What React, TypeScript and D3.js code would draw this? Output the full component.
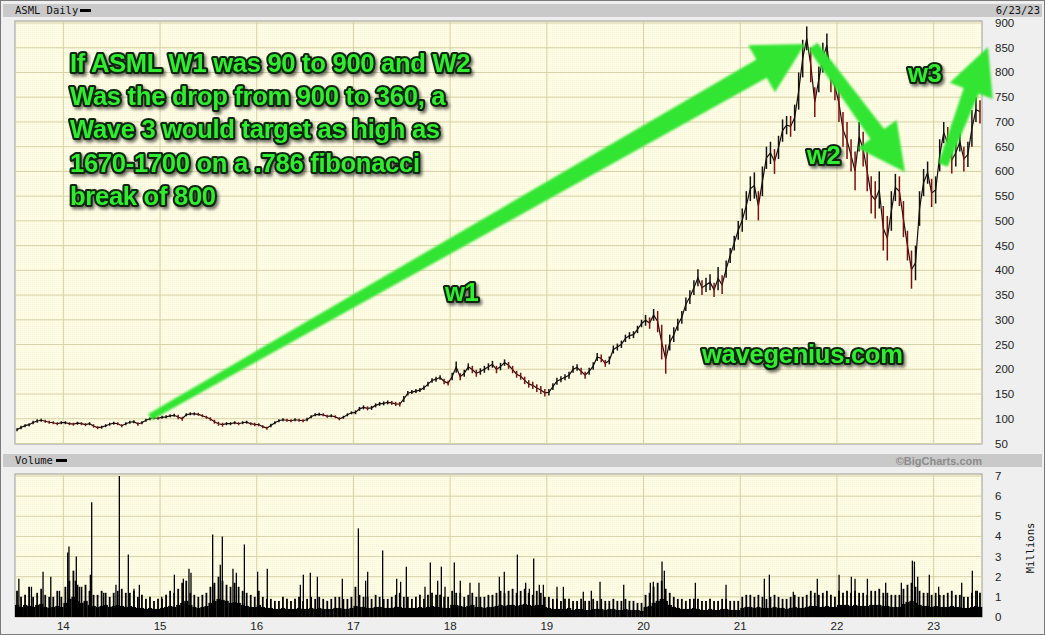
import React from "react";
import * as d3 from "d3";

// ASML daily, 7/2013 - 6/23/2023 in half-month steps
// each year row: first half of month, second half of month (Jan..Dec)
const priceHigh = [
  // 2013 H2
  81, 86, 89, 91, 96, 99, 100, 98, 96, 95, 93, 95,
  // 2014
  95, 93, 92, 94, 93, 91, 93, 89, 85, 86, 89, 92, 94, 93, 89, 93, 96, 97, 93, 95, 100, 103, 105, 104,
  // 2015
  106, 107, 109, 110, 108, 104, 111, 113, 113, 112, 109, 106, 103, 98, 94, 92, 93, 93, 95, 93, 95, 96, 93, 92,
  // 2016
  91, 87, 84, 90, 95, 99, 101, 100, 99, 101, 100, 99, 102, 107, 111, 112, 111, 108, 109, 107, 103, 106, 111, 115,
  // 2017
  117, 124, 127, 125, 126, 131, 134, 135, 137, 136, 134, 134, 146, 156, 158, 160, 162, 167, 175, 182, 185, 188, 181, 177,
  // 2018
  193, 216, 192, 199, 212, 207, 199, 202, 207, 212, 217, 207, 213, 220, 215, 207, 197, 193, 185, 178, 175, 170, 166, 160,
  // 2019
  160, 172, 183, 186, 190, 195, 207, 210, 203, 195, 203, 214, 233, 230, 219, 226, 248, 252, 258, 270, 275, 277, 288, 300,
  // 2020
  310, 305, 322, 318, 290, 250, 270, 285, 302, 318, 345, 360, 380, 402, 380, 385, 392, 375, 407, 390, 420, 445, 470, 500,
  // 2021
  525, 560, 590, 598, 560, 610, 650, 660, 645, 672, 705, 712, 712, 735, 800, 866, 893, 850, 770, 812, 860, 879, 820, 800,
  // 2022
  775, 720, 700, 665, 640, 700, 680, 640, 590, 580, 600, 530, 510, 560, 595, 590, 540, 480, 440, 450, 560, 605, 620, 585,
  // 2023 H1
  590, 665, 700, 690, 650, 665, 680, 650, 660, 724, 750, 744,
];

const priceLow = [
  75, 79, 83, 85, 89, 92, 94, 92, 90, 89, 87, 89,
  89, 87, 86, 88, 87, 85, 87, 82, 79, 80, 83, 86, 88, 87, 83, 87, 90, 91, 86, 89, 94, 97, 99, 98,
  100, 101, 103, 104, 99, 96, 105, 107, 107, 106, 103, 100, 96, 90, 86, 84, 87, 87, 89, 87, 89, 90, 87, 85,
  85, 81, 78, 83, 89, 93, 95, 94, 93, 95, 94, 93, 95, 101, 105, 106, 105, 102, 103, 101, 97, 100, 105, 109,
  109, 116, 119, 117, 118, 123, 126, 127, 129, 128, 126, 125, 134, 147, 150, 152, 154, 158, 165, 173, 175, 179, 170, 167,
  178, 193, 178, 185, 198, 192, 185, 189, 193, 198, 203, 192, 198, 207, 201, 192, 183, 179, 170, 163, 160, 154, 150, 145,
  147, 158, 169, 174, 178, 181, 193, 197, 189, 181, 189, 199, 217, 214, 205, 210, 232, 238, 243, 255, 261, 263, 273, 285,
  288, 282, 298, 275, 220, 191, 238, 255, 278, 292, 318, 332, 350, 368, 350, 356, 360, 346, 360, 352, 385, 415, 440, 462,
  478, 502, 540, 545, 501, 550, 605, 615, 595, 625, 660, 675, 670, 682, 725, 790, 845, 780, 710, 760, 800, 830, 760, 744,
  700, 650, 625, 600, 562, 640, 610, 560, 515, 505, 525, 440, 420, 480, 540, 530, 467, 420, 363, 380, 490, 550, 575, 528,
  535, 600, 657, 623, 596, 610, 640, 600, 609, 650, 700, 697,
];

// volume, millions: the solid mass and the usual top of the daily bars
const volumeBase = [
  0.6, 0.5, 0.6, 0.55, 0.5, 0.6, 0.65, 0.5, 0.45, 0.5, 0.55, 0.5,
  0.7, 0.9, 1.0, 0.8, 0.7, 0.8, 0.6, 0.55, 0.5, 0.55, 0.6, 0.5, 0.55, 0.6, 0.55, 0.5, 0.55, 0.5, 0.45, 0.45, 0.4, 0.45, 0.4, 0.4,
  0.45, 0.5, 0.55, 0.5, 0.6, 0.7, 0.8, 0.6, 0.5, 0.45, 0.5, 0.55, 0.7, 0.8, 0.9, 0.85, 0.8, 0.7, 0.75, 0.7, 0.6, 0.55, 0.5, 0.5,
  0.6, 0.5, 0.45, 0.45, 0.4, 0.4, 0.45, 0.4, 0.4, 0.4, 0.45, 0.4, 0.4, 0.45, 0.4, 0.45, 0.4, 0.4, 0.4, 0.45, 0.45, 0.4, 0.4, 0.45,
  0.55, 0.5, 0.5, 0.45, 0.45, 0.5, 0.5, 0.45, 0.45, 0.45, 0.5, 0.5, 0.45, 0.45, 0.45, 0.45, 0.5, 0.45, 0.5, 0.55, 0.5, 0.5, 0.45, 0.45,
  0.6, 0.6, 0.55, 0.5, 0.55, 0.6, 0.5, 0.5, 0.45, 0.5, 0.5, 0.55, 0.6, 0.55, 0.6, 0.6, 0.55, 0.6, 0.65, 0.6, 0.55, 0.6, 0.6, 0.5,
  0.45, 0.4, 0.4, 0.4, 0.4, 0.45, 0.35, 0.4, 0.4, 0.35, 0.35, 0.4, 0.4, 0.4, 0.35, 0.4, 0.4, 0.35, 0.35, 0.4, 0.35, 0.35, 0.35, 0.3,
  0.5, 0.55, 0.7, 0.8, 0.9, 0.8, 0.6, 0.5, 0.45, 0.4, 0.4, 0.4, 0.45, 0.4, 0.35, 0.35, 0.4, 0.35, 0.35, 0.4, 0.4, 0.35, 0.35, 0.35,
  0.45, 0.5, 0.5, 0.45, 0.5, 0.45, 0.45, 0.45, 0.5, 0.45, 0.45, 0.4, 0.45, 0.5, 0.45, 0.45, 0.5, 0.55, 0.55, 0.5, 0.5, 0.55, 0.5, 0.5,
  0.6, 0.6, 0.6, 0.55, 0.6, 0.55, 0.55, 0.55, 0.6, 0.6, 0.6, 0.55, 0.55, 0.5, 0.5, 0.5, 0.65, 0.75, 0.8, 0.7, 0.6, 0.55, 0.55, 0.5,
  0.55, 0.5, 0.5, 0.5, 0.55, 0.5, 0.5, 0.45, 0.45, 0.5, 0.55, 0.5,
];

const volumeHigh = [
  1.3, 1.0, 1.1, 1.5, 1.0, 1.2, 1.4, 1.1, 1.0, 1.0, 1.3, 1.0,
  1.5, 1.8, 2.3, 1.6, 1.5, 1.6, 1.3, 1.1, 1.1, 1.3, 1.2, 1.0, 1.2, 1.3, 1.4, 1.2, 1.2, 1.3, 1.0, 1.1, 0.9, 1.0, 0.8, 0.9,
  0.9, 1.1, 1.3, 1.2, 1.4, 1.7, 1.8, 1.2, 1.1, 1.0, 1.1, 1.2, 1.5, 1.7, 2.0, 1.8, 1.6, 1.5, 1.7, 1.5, 1.3, 1.2, 1.1, 1.0,
  1.3, 1.0, 0.9, 0.9, 0.8, 0.8, 1.0, 0.9, 0.8, 0.9, 1.0, 0.8, 0.9, 1.0, 0.9, 1.0, 0.9, 0.8, 0.9, 1.0, 1.0, 0.9, 0.9, 1.0,
  1.5, 1.1, 1.0, 1.0, 0.9, 1.1, 1.0, 0.9, 0.9, 1.0, 1.1, 1.2, 1.0, 1.0, 0.9, 1.0, 1.1, 0.9, 1.1, 1.2, 1.1, 1.1, 1.0, 1.0,
  1.3, 1.2, 1.2, 1.0, 1.1, 1.2, 1.0, 1.0, 1.0, 1.1, 1.1, 1.2, 1.3, 1.2, 1.3, 1.4, 1.2, 1.3, 1.4, 1.2, 1.1, 1.3, 1.2, 1.0,
  1.0, 0.9, 0.9, 0.8, 0.9, 0.9, 0.8, 0.8, 0.9, 0.8, 0.8, 0.9, 0.8, 0.9, 0.8, 0.8, 0.9, 0.8, 0.8, 0.9, 0.8, 0.8, 0.7, 0.7,
  1.1, 1.2, 1.5, 1.7, 1.8, 1.4, 1.2, 1.0, 0.9, 0.9, 0.8, 0.9, 0.9, 0.9, 0.8, 0.8, 0.9, 0.8, 0.8, 0.9, 0.9, 0.8, 0.8, 0.8,
  1.0, 1.1, 1.1, 1.0, 1.1, 1.0, 0.9, 1.0, 1.1, 1.0, 0.9, 0.9, 1.0, 1.1, 1.0, 1.0, 1.1, 1.3, 1.2, 1.1, 1.2, 1.3, 1.1, 1.0,
  1.3, 1.2, 1.3, 1.2, 1.3, 1.2, 1.2, 1.1, 1.3, 1.3, 1.4, 1.2, 1.2, 1.1, 1.1, 1.1, 1.4, 1.6, 1.7, 1.5, 1.3, 1.2, 1.2, 1.1,
  1.2, 1.1, 1.1, 1.2, 1.3, 1.1, 1.1, 1.0, 1.0, 1.2, 1.3, 1.2,
];

// single-day volume spikes (year as 13.xx .. 23.xx, millions)
const spikeDates = [
  13.54, 13.67, 13.79, 13.87, 13.96, 14.045, 14.058, 14.124, 14.134, 14.165, 14.279, 14.293, 14.417, 14.544, 14.579,
  14.672, 14.731, 14.786, 15.017, 15.148, 15.241, 15.299, 15.32, 15.544, 15.561, 15.623, 15.644, 15.754, 15.789,
  15.872, 16.009, 16.109, 16.451, 16.482, 16.554, 16.627, 16.885, 17.051, 17.126, 17.147, 17.302, 17.447, 17.488,
  17.547, 17.74, 17.795, 17.871, 17.909, 17.947, 18.043, 18.105, 18.205, 18.298, 18.509, 18.56, 18.695, 18.781,
  18.819, 18.864, 18.922, 18.964, 19.105, 19.171, 19.377, 19.46, 19.55, 19.795, 20.07, 20.101, 20.191, 20.215,
  20.536, 20.853, 21.249, 21.301, 21.549, 21.797, 22.022, 22.149, 22.187, 22.315, 22.504, 22.666, 22.78, 22.801,
  22.835, 22.955, 23.052, 23.29, 23.4, 23.452,
];
const spikeValues = [
  1.9, 1.5, 2.25, 2.0, 1.3, 3.2, 3.5, 1.8, 3.0, 1.5, 2.1, 5.7, 1.2, 1.6, 7.0,
  3.1, 1.4, 1.6, 1.0, 2.1, 1.9, 2.4, 2.2, 4.1, 1.6, 2.6, 4.0, 2.4, 2.2,
  3.6, 2.25, 2.4, 1.6, 2.1, 2.2, 2.0, 1.9, 4.4, 1.8, 2.25, 3.3, 1.9, 1.75,
  2.5, 1.5, 2.7, 1.8, 2.5, 1.5, 2.7, 1.8, 1.7, 1.7, 2.0, 2.25, 3.1, 1.7,
  1.4, 2.9, 1.6, 1.6, 1.5, 1.5, 1.25, 1.3, 1.75, 1.6, 1.7, 1.75, 2.75, 2.3,
  1.7, 1.6, 1.9, 2.1, 1.25, 1.9, 2.1, 2.0, 1.9, 1.9, 1.7, 1.7, 2.8, 2.75,
  2.0, 2.1, 1.5, 1.7, 2.3, 1.3,
];

const priceTicks = d3.range(50, 901, 50);
const volumeTicks = [0, 1, 2, 3, 4, 5, 6, 7];
const yearTicks = [14, 15, 16, 17, 18, 19, 20, 21, 22, 23];

const noteLines = [
  "If ASML W1 was 90 to 900 and W2",
  "Was the drop from 900 to 360, a",
  "Wave 3 would target as high as",
  "1670-1700 on a .786 fibonacci",
  "break of 800",
];

const W = 1045;
const H = 635;
const left = 15;
const right = 982;

const x = d3.scaleLinear().domain([13.5, 23.5]).range([left, right]);
const yPrice = d3.scaleLinear().domain([50, 900]).range([443.5, 23]);
const yVol = d3.scaleLinear().domain([0, 7]).range([617, 476]);

const stepT = (i: number) => 13.5 + (i + 0.5) / 24;

// tapered arrow polygon
function arrowPoints(
  tail: [number, number],
  tip: [number, number],
  w0: number,
  w1: number,
  headLen: number,
  headHalf: number
) {
  const dx = tip[0] - tail[0];
  const dy = tip[1] - tail[1];
  const len = Math.hypot(dx, dy);
  const ux = dx / len, uy = dy / len;
  const nx = -uy, ny = ux;
  const bx = tip[0] - ux * headLen, by = tip[1] - uy * headLen;
  const pts = [
    [tail[0] + nx * w0 / 2, tail[1] + ny * w0 / 2],
    [bx + nx * w1 / 2, by + ny * w1 / 2],
    [bx + nx * headHalf, by + ny * headHalf],
    tip,
    [bx - nx * headHalf, by - ny * headHalf],
    [bx - nx * w1 / 2, by - ny * w1 / 2],
    [tail[0] - nx * w0 / 2, tail[1] - ny * w0 / 2],
  ];
  return pts.map((p) => p.join(",")).join(" ");
}

const green = "#30e530";
const mono = "'DejaVu Sans Mono', monospace";
const axisFont = "'Liberation Sans', Arial, sans-serif";
const noteFont = "'Liberation Sans', Arial, sans-serif";

function Note({ x: tx, y: ty, text, size = 25.6 }: { x: number; y: number; text: string; size?: number }) {
  return (
    <text
      x={tx}
      y={ty}
      fontFamily={noteFont}
      fontWeight="bold"
      fontSize={size}
      letterSpacing={-0.3}
      fill="#33ec33"
      stroke="#0a260a"
      strokeWidth={4.2}
      strokeLinejoin="round"
      paintOrder="stroke"
      filter="url(#shadow)"
    >
      {text}
    </text>
  );
}

export default function App() {
  const mids = priceHigh.map((h, i) => (h + priceLow[i]) / 2);
  const midLine = d3
    .line<number>()
    .x((_, i) => x(stepT(i)))
    .y((d) => yPrice(d))(mids);

  return (
    <div>
      <style>{`body{margin:0;background:#fff}`}</style>
      <svg width={W} height={H} style={{ display: "block" }}>
        <defs>
          <filter id="shadow" x="-10%" y="-30%" width="130%" height="170%">
            <feDropShadow dx="2" dy="2.5" stdDeviation="1.6" floodColor="#000" floodOpacity="0.55" />
          </filter>
          <filter id="soft" x="-5%" y="-5%" width="110%" height="110%">
            <feGaussianBlur stdDeviation="0.9" />
          </filter>
          <pattern id="dots" width="2" height="2" patternUnits="userSpaceOnUse">
            <rect width="2" height="2" fill="#fffde4" />
            <rect width="1" height="1" fill="#f8f5da" />
          </pattern>
        </defs>

        {/* frame */}
        <rect x={0.5} y={0.5} width={W - 1} height={H - 1} fill="#efefef" stroke="#7a7a7a" />
        <rect x={3} y={4} width={W - 6} height={13} fill="#c9c9c9" />
        <text x={15} y={14} fontFamily={mono} fontSize={10.5} fill="#111">ASML Daily</text>
        <rect x={80} y={9} width={11} height={3} fill="#000" />
        <text x={1040} y={14} textAnchor="end" fontFamily={mono} fontSize={10.5} fill="#111">6/23/23</text>

        <rect x={3} y={454} width={W - 6} height={13} fill="#c9c9c9" />
        <text x={15} y={464} fontFamily={mono} fontSize={10.5} fill="#111">Volume</text>
        <rect x={56} y={459} width={11} height={3} fill="#000" />
        <text x={982} y={465} textAnchor="end" fontFamily={axisFont} fontWeight="bold" fontSize={11} fill="#8c8c8c">
          ©BigCharts.com
        </text>

        {/* price panel */}
        <rect x={left} y={21} width={right - left} height={423} fill="url(#dots)" stroke="#9a9a9a" />
        {priceTicks.map((p) => (
          <line key={p} x1={left} x2={right} y1={yPrice(p)} y2={yPrice(p)} stroke="#d6d0a6" />
        ))}
        {yearTicks.map((yr) => (
          <line key={yr} x1={x(yr)} x2={x(yr)} y1={21} y2={444} stroke="#d6d0a6" />
        ))}
        {priceTicks.map((p) => (
          <text key={p} x={995} y={yPrice(p) + 4} fontFamily={axisFont} fontSize={11.5} fill="#222">
            {p}
          </text>
        ))}

        <path d={midLine ?? ""} fill="none" stroke="#1a0a0a" strokeWidth={1.2} />
        {priceHigh.map((h, i) => {
          const down = i > 0 && mids[i] < mids[i - 1];
          return (
            <line
              key={i}
              x1={x(stepT(i))}
              x2={x(stepT(i))}
              y1={yPrice(h)}
              y2={yPrice(priceLow[i])}
              stroke={down ? "#7a1010" : "#111"}
              strokeWidth={1.5}
            />
          );
        })}

        {/* volume panel */}
        <rect x={left} y={474} width={right - left} height={143} fill="url(#dots)" stroke="#9a9a9a" />
        {volumeTicks.map((v) => (
          <line key={v} x1={left} x2={right} y1={yVol(v)} y2={yVol(v)} stroke="#d6d0a6" />
        ))}
        {yearTicks.map((yr) => (
          <line key={yr} x1={x(yr)} x2={x(yr)} y1={474} y2={617} stroke="#d6d0a6" />
        ))}
        {volumeTicks.map((v) => (
          <text key={v} x={995} y={yVol(v) + 4} fontFamily={axisFont} fontSize={11.5} fill="#222">
            {v}
          </text>
        ))}
        <text
          transform="translate(1034,548) rotate(-90)"
          textAnchor="middle"
          fontFamily={mono}
          fontSize={10.5}
          fill="#111"
        >
          Millions
        </text>
        {volumeBase.map((b, i) => (
          <rect
            key={i}
            x={x(13.5 + i / 24)}
            width={x(13.5 + (i + 1) / 24) - x(13.5 + i / 24) + 0.2}
            y={yVol(b)}
            height={yVol(0) - yVol(b)}
            fill="#000"
          />
        ))}
        {volumeHigh.map((v, i) => (
          <line
            key={i}
            x1={x(stepT(i))}
            x2={x(stepT(i))}
            y1={yVol(0)}
            y2={yVol(v)}
            stroke="#000"
            strokeWidth={1.8}
          />
        ))}
        {spikeDates.map((d, i) => (
          <line key={i} x1={x(d)} x2={x(d)} y1={yVol(0)} y2={yVol(spikeValues[i])} stroke="#000" strokeWidth={1.3} />
        ))}
        {yearTicks.map((yr) => (
          <text key={yr} x={x(yr)} y={630} textAnchor="middle" fontFamily={axisFont} fontSize={11.5} fill="#222">
            {yr}
          </text>
        ))}

        {/* annotations */}
        <g filter="url(#soft)" fill={green}>
          <polygon points={arrowPoints([150, 417], [805, 44], 7, 21, 50, 27)} />
          <polygon points={arrowPoints([813, 46], [905, 172], 11, 17, 47, 24)} />
          <polygon points={arrowPoints([943, 165], [988, 47], 10, 16, 47, 23)} />
        </g>
        {noteLines.map((l, i) => (
          <Note key={i} x={70} y={72 + i * 33.2} text={l} />
        ))}
        <Note x={445} y={301} text="w1" />
        <Note x={807} y={164} text="w2" />
        <Note x={908} y={82} text="w3" />
        <Note x={702} y={363} text="wavegenius.com" />
      </svg>
    </div>
  );
}
